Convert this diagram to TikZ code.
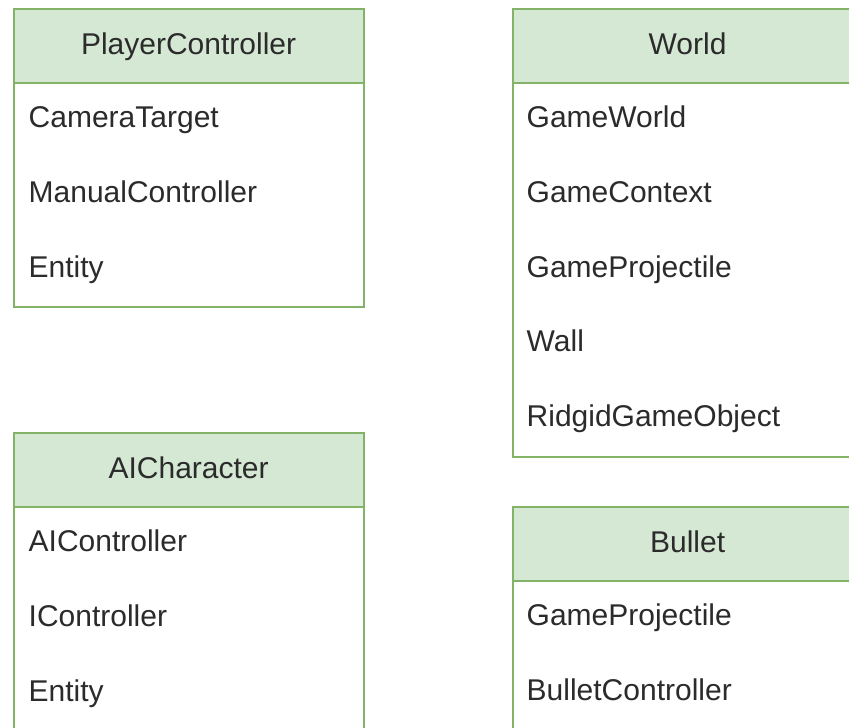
\documentclass[tikz,border=0pt]{standalone}
\usepackage{fontspec}
\setmainfont{Liberation Sans}
\definecolor{umlfill}{HTML}{D5E8D4}
\definecolor{umlstroke}{HTML}{82B366}
\definecolor{txt}{HTML}{2B2B2B}
\begin{document}
\begin{tikzpicture}[x=1pt,y=-1pt,
  hdr/.style={draw=umlstroke, fill=umlfill, line width=2.2pt, minimum width=350pt, minimum height=74pt, inner sep=0pt, text height=21.5pt, text depth=4pt, font=\fontsize{30}{34}\selectfont, text=txt, anchor=north west},
  bodybox/.style={draw=umlstroke, fill=white, line width=2.2pt, minimum width=350pt, inner sep=0pt, anchor=north west},
  item/.style={anchor=west, inner sep=0pt, text height=21.5pt, text depth=0pt, font=\fontsize{30}{34}\selectfont, text=txt}]
\useasboundingbox (0,0) rectangle (849,728);
\clip (0,0) rectangle (849,728);
% PlayerController
\node[bodybox, minimum height=224pt] (pcbody) at (12.5,82) {};
\node[hdr] (pc) at (12.5,8) {PlayerController};
\node[item] (pc1) at (28.5,117) {CameraTarget};
\node[item] (pc2) at (28.5,192) {ManualController};
\node[item] (pc3) at (28.5,267) {Entity};
% World
\node[bodybox, minimum height=374pt] (wbody) at (511.5,82) {};
\node[hdr] (w) at (511.5,8) {World};
\node[item] (w1) at (526.5,117) {GameWorld};
\node[item] (w2) at (526.5,192) {GameContext};
\node[item] (w3) at (526.5,267) {GameProjectile};
\node[item] (w4) at (526.5,341) {Wall};
\node[item] (w5) at (526.5,416) {RidgidGameObject};
% AICharacter
\node[bodybox, minimum height=226pt] (aibody) at (12.5,506) {};
\node[hdr] (ai) at (12.5,432) {AICharacter};
\node[item] (ai1) at (28.5,541) {AIController};
\node[item] (ai2) at (28.5,616) {IController};
\node[item] (ai3) at (28.5,691) {Entity};
% Bullet
\node[bodybox, minimum height=160pt] (bbody) at (511.5,580) {};
\node[hdr] (b) at (511.5,506) {Bullet};
\node[item] (b1) at (526.5,615) {GameProjectile};
\node[item] (b2) at (526.5,690) {BulletController};
\end{tikzpicture}
\end{document}
